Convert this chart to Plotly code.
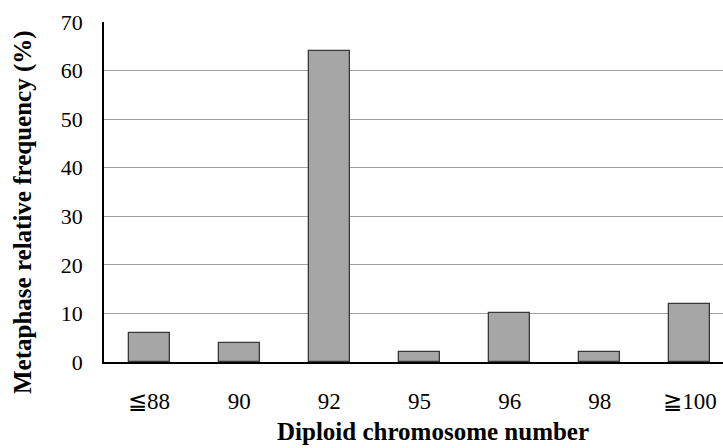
import plotly.graph_objects as go

categories = ["≦88", "90", "92", "95", "96", "98", "≧100"]
values = [6, 4, 64, 2, 10, 2, 12]
y_ticks = [0, 10, 20, 30, 40, 50, 60, 70]

W, H = 723, 448
L, R, T, B = 104, 0, 22, 86
pw, ph = W - L - R, H - T - B

fig = go.Figure()
fig.add_trace(go.Bar(
    x=list(range(len(categories))),
    y=values,
    width=0.455,
    marker=dict(color="#a6a6a6", line=dict(color="#383838", width=1.3)),
))

font = "Liberation Serif"
fig.update_layout(
    width=W, height=H,
    margin=dict(l=L, r=R, t=T, b=B),
    paper_bgcolor="white", plot_bgcolor="white",
    showlegend=False,
    font=dict(family=font, size=22, color="black"),
    bargap=0,
)
fig.update_xaxes(
    range=[-0.5, 6.367],
    tickmode="array",
    tickvals=list(range(len(categories))),
    ticktext=categories,
    showline=True, linecolor="black", linewidth=1.8,
    showgrid=False, zeroline=False,
    ticks="outside", ticklen=17, tickcolor="rgba(0,0,0,0)",
    tickfont=dict(family=font, size=23),
)
fig.update_yaxes(
    range=[0, 70],
    tickmode="array",
    tickvals=y_ticks,
    showline=True, linecolor="black", linewidth=1.8,
    showgrid=True, gridcolor="#a0a0a0", gridwidth=1,
    zeroline=False,
    ticks="outside", ticklen=15, tickcolor="rgba(0,0,0,0)",
    tickfont=dict(family=font, size=22),
)

fig.add_annotation(
    text="<b>Diploid chromosome number</b>",
    xref="paper", yref="paper",
    x=(433 - L) / pw, y=(H - B - 431) / ph,
    xanchor="center", yanchor="middle", showarrow=False,
    font=dict(family=font, size=25, color="black"),
)
fig.add_annotation(
    text="<b>Metaphase relative frequency (%)</b>",
    xref="paper", yref="paper",
    x=(23 - L) / pw, y=(H - B - 212) / ph,
    xanchor="center", yanchor="middle", showarrow=False, textangle=-90,
    font=dict(family=font, size=25, color="black"),
)

fig.write_html("out.html", post_script="document.body.style.margin='0';",
               config={"displayModeBar": False})
